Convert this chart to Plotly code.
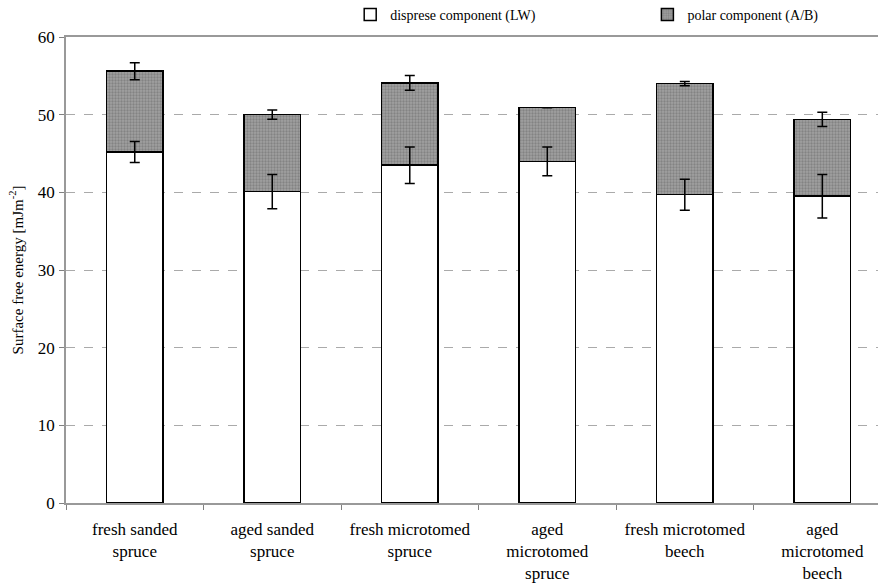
import plotly.graph_objects as go

categories = ["fresh sanded<br>spruce", "aged sanded<br>spruce", "fresh microtomed<br>spruce",
              "aged<br>microtomed<br>spruce", "fresh microtomed<br>beech", "aged<br>microtomed<br>beech"]
dispersive = [45.2, 40.1, 43.5, 44.0, 39.7, 39.5]
dispersive_err = [1.35, 2.2, 2.35, 1.85, 2.0, 2.8]
polar = [10.4, 9.9, 10.6, 6.9, 14.3, 9.9]
total_err = [1.1, 0.6, 0.95, None, 0.28, 0.92]

totals = [d + p for d, p in zip(dispersive, polar)]
FONT = "Liberation Serif"

fig = go.Figure()
fig.add_trace(go.Bar(
    x=categories, y=dispersive, name="disprese component (LW)",
    marker=dict(color="white", line=dict(color="black", width=1.5)),
    width=0.41, legend="legend",
))
fig.add_trace(go.Bar(
    x=categories, y=polar, name="polar component (A/B)",
    marker=dict(color="#8c8c8c", line=dict(color="black", width=1.5),
                pattern=dict(shape=".", size=3, solidity=0.45,
                             fgcolor="#666666", bgcolor="#a0a0a0")),
    width=0.41, legend="legend2",
))
# error bars drawn on top of the stacked bars
fig.add_trace(go.Scatter(
    x=categories, y=dispersive, mode="markers", marker=dict(opacity=0, size=1),
    error_y=dict(type="data", array=dispersive_err, color="black", thickness=1.5, width=5),
    showlegend=False, hoverinfo="skip",
))
fig.add_trace(go.Scatter(
    x=categories, y=totals, mode="markers", marker=dict(opacity=0, size=1),
    error_y=dict(type="data", array=total_err, color="black", thickness=1.5, width=5),
    showlegend=False, hoverinfo="skip",
))

legend_common = dict(orientation="h", yref="container", yanchor="middle", y=1 - 15 / 584,
                     xanchor="left", font=dict(family=FONT, size=14, color="black"),
                     itemwidth=30, bgcolor="rgba(0,0,0,0)")
fig.update_layout(
    width=878, height=584,
    margin=dict(l=66, r=0, t=37, b=81, autoexpand=False),
    barmode="stack",
    plot_bgcolor="white", paper_bgcolor="white",
    font=dict(family=FONT, size=17, color="black"),
    legend=dict(x=0.350, **legend_common),
    legend2=dict(x=0.716, **legend_common),
    xaxis=dict(
        type="category", range=[-0.5, 5.405],
        tickson="boundaries", ticks="outside", ticklen=5, tickcolor="#808080",
        showline=True, linecolor="#999999", linewidth=1.5, mirror=True,
        showgrid=False, tickfont=dict(family=FONT, size=17),
        ticklabelstandoff=10,
    ),
    yaxis=dict(
        range=[0, 60], tickvals=[0, 10, 20, 30, 40, 50, 60],
        ticks="outside", ticklen=5, tickcolor="#808080",
        showline=True, linecolor="#999999", linewidth=1.5,
        showgrid=True, gridcolor="#aaaaaa", griddash="dash", gridwidth=1.2,
        zeroline=False, tickfont=dict(family=FONT, size=17),
        ticklabelstandoff=1,
        title=dict(text="Surface free energy [mJm<sup>-2</sup>]", font=dict(family=FONT, size=15),
                   standoff=11),
    ),
)

fig.write_html("out.html", config={"displayModeBar": False},
               post_script="document.body.style.margin='0';")
